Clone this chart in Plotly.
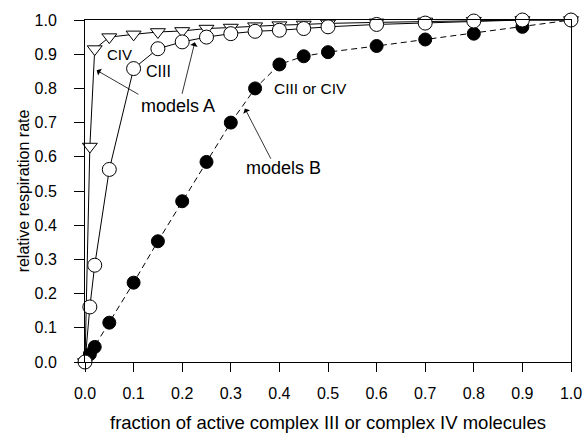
import plotly.graph_objects as go

# fraction of active complex molecules
x_civ = [0.0, 0.01, 0.02, 0.05, 0.1, 0.15, 0.2, 0.25, 0.3, 0.35, 0.4, 0.45, 0.5, 0.6, 0.7, 0.8, 0.9, 1.0]
y_civ = [0.0, 0.63, 0.915, 0.95, 0.958, 0.965, 0.968, 0.975, 0.978, 0.982, 0.985, 0.987, 0.99, 0.993, 0.996, 0.998, 1.0, 1.0]

x_ciii = [0.0, 0.01, 0.02, 0.05, 0.1, 0.15, 0.2, 0.25, 0.3, 0.35, 0.4, 0.45, 0.5, 0.6, 0.7, 0.8, 0.9, 1.0]
y_ciii = [0.0, 0.161, 0.283, 0.563, 0.858, 0.916, 0.936, 0.95, 0.96, 0.967, 0.970, 0.975, 0.98, 0.987, 0.991, 0.997, 1.0, 1.0]

x_b = [0.0, 0.01, 0.02, 0.05, 0.1, 0.15, 0.2, 0.25, 0.3, 0.35, 0.4, 0.45, 0.5, 0.6, 0.7, 0.8, 0.9, 1.0]
y_b = [0.0, 0.023, 0.044, 0.115, 0.232, 0.353, 0.47, 0.585, 0.70, 0.80, 0.870, 0.894, 0.906, 0.924, 0.943, 0.96, 0.98, 1.0]

tick_vals = [0.0, 0.1, 0.2, 0.3, 0.4, 0.5, 0.6, 0.7, 0.8, 0.9, 1.0]
tick_text = ["0.0", "0.1", "0.2", "0.3", "0.4", "0.5", "0.6", "0.7", "0.8", "0.9", "1.0"]

FONT = "Liberation Sans, Arial, sans-serif"

fig = go.Figure()
fig.add_trace(go.Scatter(
    x=x_b, y=y_b, mode="lines+markers", cliponaxis=False,
    line=dict(color="black", width=1, dash="6px,4px"),
    marker=dict(symbol="circle", size=13, color="black", line=dict(color="black", width=1)),
    showlegend=False))
fig.add_trace(go.Scatter(
    x=x_civ, y=y_civ, mode="lines+markers", cliponaxis=False,
    line=dict(color="black", width=1),
    marker=dict(symbol="triangle-down", size=13, color="white", line=dict(color="black", width=1)),
    showlegend=False))
fig.add_trace(go.Scatter(
    x=x_ciii, y=y_ciii, mode="lines+markers", cliponaxis=False,
    line=dict(color="black", width=1),
    marker=dict(symbol="circle", size=14, color="white", line=dict(color="black", width=1)),
    showlegend=False))

texts = [
    dict(x=0.042, y=0.90, text="CIV", size=15),
    dict(x=0.122, y=0.848, text="CIII", size=16),
    dict(x=0.112, y=0.75, text="models A", size=18),
    dict(x=0.384, y=0.80, text="CIII or CIV", size=15.5),
    dict(x=0.328, y=0.566, text="models B", size=18),
]
annotations = []
for t in texts:
    annotations.append(dict(x=t["x"], y=t["y"], xref="x", yref="y", text=t["text"],
                            showarrow=False, xanchor="left", yanchor="middle",
                            font=dict(family=FONT, size=t["size"], color="black")))

arrows = [
    # (head x, head y, tail x, tail y)
    (0.024, 0.853, 0.113, 0.78),
    (0.226, 0.935, 0.199, 0.78),
    (0.329, 0.741, 0.384, 0.59),
]
for hx, hy, tx, ty in arrows:
    annotations.append(dict(x=hx, y=hy, ax=tx, ay=ty, xref="x", yref="y", axref="x", ayref="y",
                            text="", showarrow=True, arrowhead=1, arrowsize=1.6,
                            arrowwidth=0.8, arrowcolor="black"))

fig.update_layout(
    width=586, height=433,
    margin=dict(l=85, r=15, t=20, b=71),
    paper_bgcolor="white", plot_bgcolor="white",
    font=dict(family=FONT, size=16, color="black"),
    annotations=annotations,
    xaxis=dict(range=[0, 1], tickvals=tick_vals, ticktext=tick_text, automargin=False,
               showgrid=False, zeroline=False, showline=True, linecolor="black", linewidth=1,
               mirror=True, ticks="outside", ticklen=9, tickcolor="black",
               ticklabelstandoff=8,
               title=dict(text="fraction of active complex III or complex IV molecules",
                          font=dict(size=18.5), standoff=18)),
    yaxis=dict(range=[0, 1], tickvals=tick_vals, ticktext=tick_text, automargin=False,
               showgrid=False, zeroline=False, showline=True, linecolor="black", linewidth=1,
               mirror=True, ticks="outside", ticklen=10, tickcolor="black",
               ticklabelstandoff=14,
               title=dict(text="relative respiration rate", font=dict(size=16), standoff=0)),
)

fig.write_html("out.html", config={"displayModeBar": False},
               post_script="document.body.style.margin='0';document.body.style.overflow='hidden';")
